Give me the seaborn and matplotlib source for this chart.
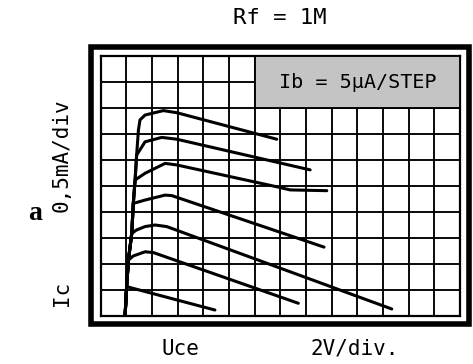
import matplotlib
matplotlib.use("Agg")
import matplotlib.pyplot as plt
import seaborn as sns
import pandas as pd
from matplotlib.patches import Rectangle

# ---- data (grid divisions: x = 2 V/div, y = 0.5 mA/div) ----
curve_names = ["35uA", "30uA", "25uA", "20uA", "15uA", "10uA", "5uA"]
x_35 = [0.95, 1.01, 1.08, 1.21, 1.27, 1.34, 1.40, 1.47, 1.53, 1.73, 2.44, 2.96, 6.86]
y_35 = [0.00, 1.13, 2.15, 3.18, 4.33, 5.23, 6.19, 7.15, 7.54, 7.73, 7.90, 7.82, 6.80]
x_30 = [0.95, 1.01, 1.08, 1.21, 1.27, 1.34, 1.40, 1.73, 2.38, 2.96, 8.16]
y_30 = [0.00, 1.13, 2.15, 3.18, 4.33, 5.23, 6.19, 6.70, 6.87, 6.80, 5.62]
x_25 = [0.95, 1.01, 1.08, 1.21, 1.27, 1.34, 1.73, 2.51, 2.96, 6.86, 7.38, 8.81]
y_25 = [0.00, 1.13, 2.15, 3.18, 4.33, 5.23, 5.49, 5.87, 5.81, 4.97, 4.85, 4.82]
x_20 = [0.95, 1.01, 1.08, 1.21, 1.27, 1.73, 2.51, 2.77, 8.70]
y_20 = [0.00, 1.13, 2.15, 3.18, 4.33, 4.46, 4.65, 4.63, 2.65]
x_15 = [0.95, 1.01, 1.08, 1.21, 1.40, 1.73, 2.12, 2.57, 11.34]
y_15 = [0.00, 1.13, 2.15, 3.18, 3.31, 3.44, 3.50, 3.44, 0.27]
x_10 = [0.95, 1.01, 1.08, 1.27, 1.73, 2.05, 7.70]
y_10 = [0.00, 1.13, 2.15, 2.31, 2.47, 2.44, 0.49]
x_5 = [0.95, 1.01, 4.45]
y_5 = [0.00, 1.13, 0.23]

x_divs = list(range(0, 15))
y_divs = list(range(0, 11))

title_text = "Rf = 1M"
box_text = "Ib = 5\u00b5A/STEP"
y_label = "0,5mA/div"
y_name = "Ic"
x_name = "Uce"
x_label = "2V/div."
panel = "a"

xs = [x_35, x_30, x_25, x_20, x_15, x_10, x_5]
ys = [y_35, y_30, y_25, y_20, y_15, y_10, y_5]
rows = []
for name, xx, yy in zip(curve_names, xs, ys):
    for i, (a, b) in enumerate(zip(xx, yy)):
        rows.append({"curve": name, "order": i, "Uce": a, "Ic": b})
df = pd.DataFrame(rows)

sns.set_theme(style="white")
plt.rcParams["font.family"] = ["DejaVu Sans Mono", "DejaVu Sans"]
plt.rcParams["text.color"] = "black"

W, H = 473, 364
fig = plt.figure(figsize=(W / 100, H / 100), dpi=100)
fig.patch.set_facecolor("white")

L, R, T, B = 100.7, 460.0, 56.0, 316.0
ax = fig.add_axes([L / W, 1 - B / H, (R - L) / W, (B - T) / H])
ax.set_facecolor("white")

sns.lineplot(data=df, x="Uce", y="Ic", units="curve", estimator=None, sort=False,
             color="black", linewidth=2.2, ax=ax, legend=False, zorder=5)

ax.set_xlim(x_divs[0], x_divs[-1])
ax.set_ylim(y_divs[0], y_divs[-1])
ax.set_xticks(x_divs)
ax.set_yticks(y_divs)
ax.grid(True, color="black", linewidth=1.35)
ax.tick_params(length=0, labelbottom=False, labelleft=False)
ax.set_xlabel("")
ax.set_ylabel("")
for s in ax.spines.values():
    s.set_color("black")
    s.set_linewidth(1.6)

# shaded legend box
ax.add_patch(Rectangle((6, 8), 8, 2, facecolor="#c4c4c4", edgecolor="black",
                       linewidth=1.35, zorder=3))
ax.text(10, 9, box_text, ha="center", va="center", fontsize=14.5, color="black",
        family=["DejaVu Sans Mono", "DejaVu Sans"], zorder=6)

# thick outer frame
fx0, fx1, fy0, fy1 = 90.5, 468.5, 46.5, 323.5
fig.patches.append(Rectangle((fx0 / W, 1 - fy1 / H), (fx1 - fx0) / W, (fy1 - fy0) / H,
                             transform=fig.transFigure, fill=False,
                             edgecolor="black", linewidth=4.0))

def ftxt(x, y, s, **kw):
    fig.text(x / W, 1 - y / H, s, ha="center", va="center", color="black", **kw)

ftxt(280, 18, title_text, fontsize=16)
ftxt(180, 349, x_name, fontsize=15)
ftxt(355, 349, x_label, fontsize=15)
ftxt(62, 155, y_label, fontsize=15, rotation=90)
ftxt(62, 293, y_name, fontsize=15, rotation=90)
ftxt(35, 213, panel, fontsize=20, fontweight="bold",
     family=["Liberation Serif", "DejaVu Serif"])

fig.savefig("out.png", dpi=100)
